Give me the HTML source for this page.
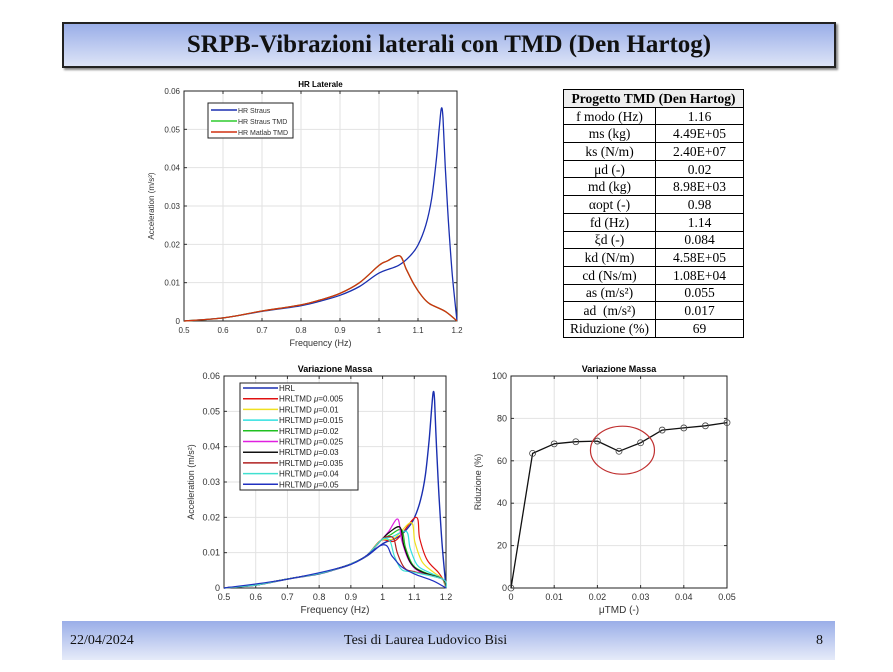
<!DOCTYPE html>
<html><head><meta charset="utf-8"><style>
body{margin:0;width:893px;height:672px;background:#fff;position:relative;overflow:hidden;font-family:"Liberation Sans",sans-serif}
.title{position:absolute;left:62px;top:22px;width:770px;height:42px;border:2px solid #222;background:linear-gradient(#9aaee8,#dde4f7);box-shadow:2px 2px 2px #888;font-family:"Liberation Serif",serif;font-weight:bold;font-size:25px;text-align:center;line-height:42px;color:#111}
.foot{position:absolute;left:62px;top:621px;width:773px;height:39px;background:linear-gradient(#9aaee8,#e6ebf9);font-family:"Liberation Serif",serif;font-size:14px;color:#111}
.foot span{position:absolute;top:12px}
table{position:absolute;left:563px;top:89px;border-collapse:collapse;font-family:"Liberation Serif",serif;font-size:13.5px}
td{border:1px solid #000;height:16.7px;padding:0;text-align:center;line-height:15px}
td:first-child{width:91px}td:last-child{width:87px}
</style></head><body>
<div class="title">SRPB-Vibrazioni laterali con TMD (Den Hartog)</div>
<table>
<tr><td colspan="2" style="font-weight:bold;background:#eee">Progetto TMD (Den Hartog)</td></tr>
<tr><td>f modo (Hz)</td><td>1.16</td></tr>
<tr><td>ms (kg)</td><td>4.49E+05</td></tr>
<tr><td>ks (N/m)</td><td>2.40E+07</td></tr>
<tr><td>μd (-)</td><td>0.02</td></tr>
<tr><td>md (kg)</td><td>8.98E+03</td></tr>
<tr><td>αopt (-)</td><td>0.98</td></tr>
<tr><td>fd (Hz)</td><td>1.14</td></tr>
<tr><td>ξd (-)</td><td>0.084</td></tr>
<tr><td>kd (N/m)</td><td>4.58E+05</td></tr>
<tr><td>cd (Ns/m)</td><td>1.08E+04</td></tr>
<tr><td>as (m/s²)</td><td>0.055</td></tr>
<tr><td>ad &nbsp;(m/s²)</td><td>0.017</td></tr>
<tr><td>Riduzione (%)</td><td>69</td></tr>
</table>
<svg id="s" width="893" height="672" style="position:absolute;left:0;top:0" font-family="Liberation Sans, sans-serif"></svg>
<div class="foot"><span style="left:8px">22/04/2024</span><span style="left:282px">Tesi di Laurea Ludovico Bisi</span><span style="right:12px">8</span></div>
<script>
var s=document.getElementById('s'),h='';
function axes(x0,y0,x1,y1,xt,yt,xmin,xmax,ymin,ymax,title,xl,yl,fs){
 var X=v=>x0+(v-xmin)/(xmax-xmin)*(x1-x0),Y=v=>y1-(v-ymin)/(ymax-ymin)*(y1-y0);
 h+=`<rect x="${x0}" y="${y0}" width="${x1-x0}" height="${y1-y0}" fill="#fff" stroke="none"/>`;
 xt.forEach(t=>{var x=X(t);h+=`<line x1="${x}" y1="${y0}" x2="${x}" y2="${y1}" stroke="#e2e2e2"/><line x1="${x}" y1="${y1}" x2="${x}" y2="${y1-3}" stroke="#333"/><line x1="${x}" y1="${y0}" x2="${x}" y2="${y0+3}" stroke="#333"/><text x="${x}" y="${y1+12}" font-size="${fs}" text-anchor="middle" fill="#333">${t}</text>`});
 yt.forEach(t=>{var y=Y(t);h+=`<line x1="${x0}" y1="${y}" x2="${x1}" y2="${y}" stroke="#e2e2e2"/><line x1="${x0}" y1="${y}" x2="${x0+3}" y2="${y}" stroke="#333"/><line x1="${x1}" y1="${y}" x2="${x1-3}" y2="${y}" stroke="#333"/><text x="${x0-4}" y="${y+3}" font-size="${fs}" text-anchor="end" fill="#333">${t}</text>`});
 h+=`<rect x="${x0}" y="${y0}" width="${x1-x0}" height="${y1-y0}" fill="none" stroke="#222"/>`;
 h+=`<text x="${(x0+x1)/2}" y="${y0-4}" font-size="${fs}" font-weight="bold" text-anchor="middle">${title}</text>`;
 h+=`<text x="${(x0+x1)/2}" y="${y1+25}" font-size="${fs+1}" text-anchor="middle" fill="#333">${xl}</text>`;
 h+=`<text transform="translate(${x0-30},${(y0+y1)/2}) rotate(-90)" font-size="${fs}" text-anchor="middle" fill="#333">${yl}</text>`;
 return [X,Y];
}
function interp(pts,f){for(var i=1;i<pts.length;i++)if(f<=pts[i][0]){var a=pts[i-1],b=pts[i];return a[1]+(b[1]-a[1])*(f-a[0])/(b[0]-a[0]);}return pts[pts.length-1][1];}
function line(pts,X,Y,c,w,smooth){var P=pts.map(p=>[X(p[0]),Y(p[1])]);var d='M'+P[0][0].toFixed(1)+','+P[0][1].toFixed(1);
 for(var i=0;i<P.length-1;i++){var p0=P[Math.max(i-1,0)],p1=P[i],p2=P[i+1],p3=P[Math.min(i+2,P.length-1)];
 if(smooth){var k=6;d+=` C${(p1[0]+(p2[0]-p0[0])/k).toFixed(1)},${(p1[1]+(p2[1]-p0[1])/k).toFixed(1)} ${(p2[0]-(p3[0]-p1[0])/k).toFixed(1)},${(p2[1]-(p3[1]-p1[1])/k).toFixed(1)} ${p2[0].toFixed(1)},${p2[1].toFixed(1)}`;}else d+=` L${p2[0].toFixed(1)},${p2[1].toFixed(1)}`;}
 h+=`<path fill="none" stroke="${c}" stroke-width="${w}" stroke-linejoin="round" d="${d}"/>`;}
var base=[[0.5,0],[0.6,0.0008],[0.7,0.0025],[0.8,0.004],[0.85,0.0052],[0.9,0.0067],[0.95,0.009],[1.0,0.0125],[1.05,0.0145],[1.08,0.017],[1.1,0.0198],[1.12,0.025],[1.135,0.032],[1.147,0.042],[1.155,0.051],[1.16,0.0555],[1.164,0.053],[1.17,0.04],[1.178,0.026],[1.188,0.012],[1.2,0]];
var tmd=[[0.5,0],[0.6,0.0008],[0.7,0.0026],[0.8,0.0042],[0.85,0.0055],[0.9,0.0072],[0.95,0.0100],[1.0,0.0145],[1.02,0.0156],[1.053,0.0170],[1.07,0.0135],[1.09,0.0095],[1.11,0.0065],[1.13,0.0045],[1.17,0.0025],[1.2,0]];
var a=axes(184,91,457,321,[0.5,0.6,0.7,0.8,0.9,1,1.1,1.2],[0,0.01,0.02,0.03,0.04,0.05,0.06],0.5,1.2,0,0.06,'HR Laterale','Frequency (Hz)','Acceleration (m/s²)',8);
line(base,a[0],a[1],'#1a2fb0',1.3,1);line(tmd,a[0],a[1],'#2ecc2e',1.3,1);line(tmd,a[0],a[1],'#d03010',1.3,1);
h+=`<rect x="208" y="103" width="85" height="35" fill="#fff" stroke="#222"/>`;
[['HR Straus','#1a2fb0'],['HR Straus TMD','#2ecc2e'],['HR Matlab TMD','#d03010']].forEach((l,i)=>{var y=110+i*11;h+=`<line x1="211" y1="${y}" x2="237" y2="${y}" stroke="${l[1]}" stroke-width="1.5"/><text x="238" y="${y+3}" font-size="7" fill="#333">${l[0]}</text>`});
var b=axes(224,376,446,588,[0.5,0.6,0.7,0.8,0.9,1,1.1,1.2],[0,0.01,0.02,0.03,0.04,0.05,0.06],0.5,1.2,0,0.06,'Variazione Massa','Frequency (Hz)','Acceleration (m/s²)',9);
function mk(pf,pv,dip,c){var p=[];for(var f=0.5;f<=0.97;f+=0.05)p.push([f,interp(base,f)*1.02]);
 p.push([0.995,0.0135],[1.0+(pf-1)*0.4,dip],[pf,pv],[pf+0.012,pv*0.7],[pf+0.035,pv*0.4],[Math.min(pf+0.07,1.18),0.0045],[1.19,0.0025],[1.2,0]);line(p,b[0],b[1],c,1.2,1);}
line(base,b[0],b[1],'#1a2fb0',1.4,1);
mk(1.105,0.020,0.0135,'#e01010');mk(1.09,0.0185,0.014,'#f0e020');mk(1.075,0.016,0.0145,'#30e0e0');mk(1.06,0.0165,0.015,'#20c020');mk(1.048,0.0195,0.016,'#e020e0');mk(1.055,0.0172,0.0158,'#111');mk(1.035,0.014,0.0145,'#b02020');mk(1.025,0.013,0.014,'#40e0d0');
line([[0.5,0],[0.7,0.0025],[0.9,0.0067],[1.0,0.0122],[1.03,0.009],[1.06,0.006],[1.1,0.004],[1.16,0.002],[1.2,0]],b[0],b[1],'#2030c0',1.2,1);
h+=`<rect x="240" y="383" width="118" height="107" fill="#fff" stroke="#222"/>`;
[['HRL','#1a2fb0',''],['HRLTMD','#e01010','0.005'],['HRLTMD','#f0e020','0.01'],['HRLTMD','#30e0e0','0.015'],['HRLTMD','#20c020','0.02'],['HRLTMD','#e020e0','0.025'],['HRLTMD','#111','0.03'],['HRLTMD','#b02020','0.035'],['HRLTMD','#40e0d0','0.04'],['HRLTMD','#2030c0','0.05']].forEach((l,i)=>{var y=388+i*10.7;h+=`<line x1="243" y1="${y}" x2="278" y2="${y}" stroke="${l[1]}" stroke-width="1.5"/><text x="279" y="${y+3}" font-size="8" fill="#222">${l[0]}${l[2]?' <tspan font-style="italic">μ</tspan>='+l[2]:''}</text>`});
var c=axes(511,376,727,588,[0,0.01,0.02,0.03,0.04,0.05],[0,20,40,60,80,100],0,0.05,0,100,'Variazione Massa','μTMD (-)','Riduzione (%)',9);
var pr=[[0,0],[0.005,63.5],[0.01,68],[0.015,69],[0.02,69.3],[0.025,64.5],[0.03,68.5],[0.035,74.5],[0.04,75.5],[0.045,76.5],[0.05,78]];
line(pr,c[0],c[1],'#111',1.3,0);pr.forEach(p=>{h+=`<circle cx="${c[0](p[0])}" cy="${c[1](p[1])}" r="3" fill="none" stroke="#444" stroke-width="0.8"/>`});
h+=`<ellipse cx="${c[0](0.0258)}" cy="${c[1](65)}" rx="32" ry="24" fill="none" stroke="#c03030" stroke-width="1.2"/>`;
s.innerHTML=h;
</script>
</body></html>
